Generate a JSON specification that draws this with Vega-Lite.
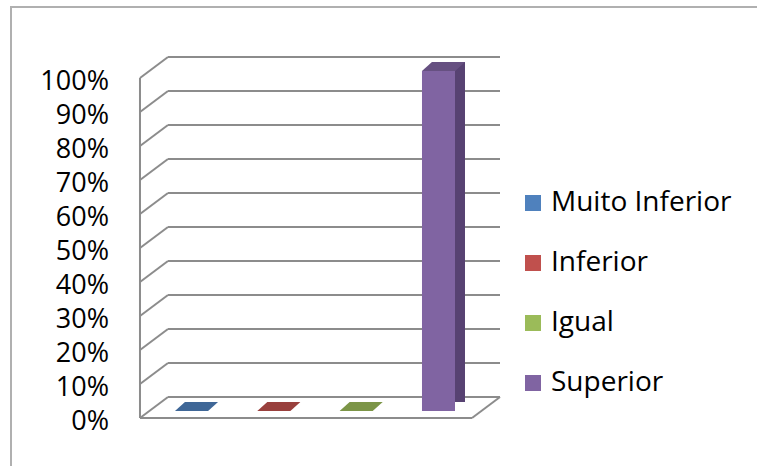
{
  "$schema": "https://vega.github.io/schema/vega-lite/v6.json",
  "autosize": {"type": "none"},
  "padding": {"left": 11, "top": 7, "right": 0, "bottom": 0},
  "width": 760,
  "height": 470,
  "background": "white",
  "view": {"stroke": "#b0b0b0", "strokeWidth": 2},
  "config": {"font": "Open Sans"},
  "datasets": {
    "cats": [
      {"cat": "Muito Inferior", "val": 0},
      {"cat": "Inferior", "val": 0},
      {"cat": "Igual", "val": 0},
      {"cat": "Superior", "val": 1}
    ],
    "ticks": [
      {"v": 0}, {"v": 0.1}, {"v": 0.2}, {"v": 0.3}, {"v": 0.4}, {"v": 0.5},
      {"v": 0.6}, {"v": 0.7}, {"v": 0.8}, {"v": 0.9}, {"v": 1}
    ],
    "one": [{"k": 1}]
  },
  "layer": [
    {
      "data": {"name": "ticks"},
      "mark": {"type": "rule", "stroke": "#8c8c8c", "strokeWidth": 2, "xOffset": 28, "x2Offset": 28, "yOffset": -21},
      "encoding": {
        "x": {"datum": "Muito Inferior", "type": "nominal", "bandPosition": -1.0606,
              "scale": {"type": "band", "domain": ["Muito Inferior", "Inferior", "Igual", "Superior"], "paddingInner": 0.599, "paddingOuter": 0, "range": [164, 444]},
              "axis": null},
        "x2": {"datum": "Superior", "bandPosition": 1.515},
        "y": {"field": "v", "type": "quantitative",
              "scale": {"domain": [-0.17353, 1.20882], "nice": false, "zero": false},
              "axis": null}
      }
    },
    {
      "data": {"name": "ticks"},
      "mark": {"type": "rule", "stroke": "#8c8c8c", "strokeWidth": 2, "x2Offset": 28, "y2Offset": -21},
      "encoding": {
        "x": {"datum": "Muito Inferior", "type": "nominal", "bandPosition": -1.0606, "axis": null},
        "x2": {"datum": "Muito Inferior", "bandPosition": -1.0606},
        "y": {"field": "v", "type": "quantitative", "axis": null},
        "y2": {"field": "v"}
      }
    },
    {
      "data": {"name": "ticks"},
      "mark": {"type": "text", "align": "right", "baseline": "middle", "dx": -31, "dy": 4, "fontSize": 27, "font": "Open Sans", "color": "#000000"},
      "encoding": {
        "x": {"datum": "Muito Inferior", "type": "nominal", "bandPosition": -1.0606, "axis": null},
        "y": {"field": "v", "type": "quantitative", "axis": null},
        "text": {"field": "v", "type": "quantitative", "format": ".0%"}
      }
    },
    {
      "data": {"name": "one"},
      "mark": {"type": "rule", "stroke": "#8c8c8c", "strokeWidth": 2},
      "encoding": {
        "x": {"datum": "Muito Inferior", "type": "nominal", "bandPosition": -1.0606, "axis": null},
        "y": {"datum": 0, "type": "quantitative", "axis": null},
        "y2": {"datum": 1}
      }
    },
    {
      "data": {"name": "one"},
      "mark": {"type": "rule", "stroke": "#8c8c8c", "strokeWidth": 2},
      "encoding": {
        "x": {"datum": "Muito Inferior", "type": "nominal", "bandPosition": -1.0606, "axis": null},
        "x2": {"datum": "Superior", "bandPosition": 1.515},
        "y": {"datum": 0, "type": "quantitative", "axis": null}
      }
    },
    {
      "data": {"name": "one"},
      "mark": {"type": "rule", "stroke": "#8c8c8c", "strokeWidth": 2, "x2Offset": 28, "y2Offset": -21},
      "encoding": {
        "x": {"datum": "Superior", "type": "nominal", "bandPosition": 1.515, "axis": null},
        "x2": {"datum": "Superior", "bandPosition": 1.515},
        "y": {"datum": 0, "type": "quantitative", "axis": null},
        "y2": {"datum": 0}
      }
    },
    {
      "data": {"name": "cats"},
      "mark": {"type": "bar", "fill": "#574272", "xOffset": 10, "yOffset": -16, "y2Offset": -16},
      "encoding": {
        "x": {"field": "cat", "type": "nominal", "axis": null},
        "y": {"field": "val", "type": "quantitative", "axis": null},
        "y2": {"datum": 0}
      }
    },
    {
      "data": {"name": "cats"},
      "mark": {"type": "bar", "yOffset": -7, "y2Offset": -7},
      "encoding": {
        "x": {"field": "cat", "type": "nominal", "axis": null},
        "y": {"field": "val", "type": "quantitative", "axis": null},
        "y2": {"datum": 0},
        "color": {"field": "cat", "type": "nominal",
                  "scale": {"domain": ["Muito Inferior", "Inferior", "Igual", "Superior"], "range": ["#4f81bd", "#c0504d", "#9bbb59", "#8064a2"]},
                  "legend": {"orient": "none", "legendX": 508, "legendY": 182, "title": null, "symbolType": "square", "symbolSize": 256,
                             "symbolStrokeWidth": 0, "labelFontSize": 28, "labelFont": "Open Sans", "labelColor": "#000000", "labelLimit": 400,
                             "labelOffset": 4, "rowPadding": 32, "padding": 0}}
      }
    },
    {
      "data": {"name": "cats"},
      "mark": {"type": "point", "shape": "M -0.66 0 L 0.66 0 L 1.06 -0.36 L -0.26 -0.36 Z", "size": 2500, "filled": true, "opacity": 1, "strokeWidth": 0, "yOffset": -7},
      "encoding": {
        "x": {"field": "cat", "type": "nominal", "axis": null},
        "y": {"field": "val", "type": "quantitative", "axis": null},
        "color": {"field": "cat", "type": "nominal", "legend": null}
      }
    },
    {
      "data": {"name": "cats"},
      "mark": {"type": "point", "shape": "M -0.66 0 L 0.66 0 L 1.06 -0.36 L -0.26 -0.36 Z", "size": 2500, "filled": true, "fill": "#000000", "opacity": 0.2, "strokeWidth": 0, "yOffset": -7},
      "encoding": {
        "x": {"field": "cat", "type": "nominal", "axis": null},
        "y": {"field": "val", "type": "quantitative", "axis": null}
      }
    }
  ]
}
